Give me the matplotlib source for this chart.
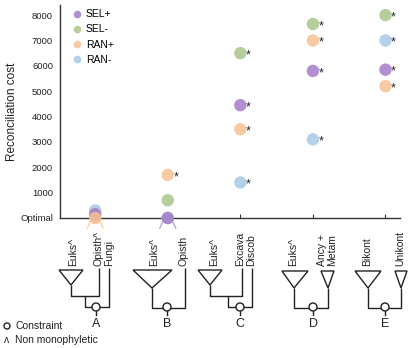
import matplotlib
matplotlib.use("Agg")
import matplotlib.pyplot as plt
from matplotlib.lines import Line2D
from matplotlib.patches import Circle, Polygon

plt.rcParams['font.family'] = ['Liberation Sans', 'DejaVu Sans']

# data
categories = ["A", "B", "C", "D", "E"]
series_names = ["SEL+", "SEL-", "RAN+", "RAN-"]
colors = ["#a47cc9", "#a9c68a", "#f6c193", "#a8c8e6"]
sel_plus = [150, 0, 4450, 5800, 5850]
sel_minus = [60, 700, 6500, 7650, 8000]
ran_plus = [0, 1700, 3500, 7000, 5200]
ran_minus = [300, 0, 1400, 3100, 7000]
# significance star shown next to the point?
star_sel_plus = [False, False, True, True, True]
star_sel_minus = [False, False, True, True, True]
star_ran_plus = [False, True, True, True, True]
star_ran_minus = [False, False, True, True, True]
ytick_vals = [0, 1000, 2000, 3000, 4000, 5000, 6000, 7000, 8000]
ytick_labels = ["Optimal", "1000", "2000", "3000", "4000", "5000", "6000", "7000", "8000"]

W, H = 415, 348
fig = plt.figure(figsize=(W / 100, H / 100), dpi=100)
ax = fig.add_axes([60 / W, 1 - 218 / H, 340 / W, 213 / H])

xpos = list(range(1, len(categories) + 1))
series = [(sel_plus, star_sel_plus), (sel_minus, star_sel_minus),
          (ran_plus, star_ran_plus), (ran_minus, star_ran_minus)]
# draw order so overlapping points look like the original
order = [3, 1, 0, 2]
for z, i in enumerate(order):
    vals, stars = series[i]
    ax.scatter(xpos, vals, s=80, color=colors[i], alpha=0.85, edgecolors='none',
               zorder=3 + z, clip_on=False)
    for x, v, st in zip(xpos, vals, stars):
        if st:
            ax.annotate("*", (x, v), xytext=(4, -1.5), textcoords='offset points',
                        fontsize=9, color='#222222', ha='left', va='center')

ax.set_xlim(0.515, 5.2)
ax.set_ylim(0, 8400)
ax.set_yticks(ytick_vals)
ax.set_yticklabels(ytick_labels, fontsize=6.8, color='#222222')
ax.set_xticks(xpos)
ax.set_xticklabels([])
ax.tick_params(axis='y', length=0, pad=5)
ax.tick_params(axis='x', direction='in', length=3, width=0.8, color='#333333')
for side in ['top', 'right']:
    ax.spines[side].set_visible(False)
for side in ['left', 'bottom']:
    ax.spines[side].set_color('#333333')
    ax.spines[side].set_linewidth(1.0)
ax.set_ylabel("Reconciliation cost", fontsize=8.5, color='#222222')
ax.yaxis.set_label_coords(-0.124, 0.5)

handles = [Line2D([], [], marker='o', linestyle='none', markersize=5.5,
                  markerfacecolor=c, markeredgecolor='none', alpha=0.85) for c in colors]
ax.legend(handles, series_names, loc='upper left', bbox_to_anchor=(64 / W, 1 - 4 / H),
          bbox_transform=fig.transFigure, frameon=False, fontsize=7.5,
          handletextpad=0.1, labelspacing=0.5, borderpad=0, handlelength=1.5)

# small caret marks under the overlapping points at A and B
for x, col in [(1, colors[2]), (2, colors[0])]:
    for d in (-1, 1):
        ax.plot([x + d * 0.06, x + d * 0.11], [-100, -400], color=col, lw=1.0,
                alpha=0.7, clip_on=False, zorder=2)

# overlay in pixel coordinates for the tree sketches
ov = fig.add_axes([0, 0, 1, 1])
ov.set_xlim(0, W)
ov.set_ylim(H, 0)
ov.axis('off')
ov.patch.set_visible(False)

lc = '#222222'
lw = 1.0


def line(xs, ys):
    ov.plot(xs, ys, color=lc, lw=lw, solid_capstyle='butt')


def tri(left, right, apex_x, top, apex_y):
    ov.add_patch(Polygon([[left, top], [right, top], [apex_x, apex_y]], closed=True,
                         fill=False, edgecolor=lc, lw=lw))


def label(x, txt):
    ov.text(x, 266, txt, rotation=90, ha='center', va='bottom', fontsize=7.5, color='#222222',
            linespacing=1.0)


def node(cx, letter):
    ov.plot([cx, cx], [311, 315], color=lc, lw=lw)
    ov.add_patch(Circle((cx, 307), 4, facecolor='white', edgecolor=lc, lw=lw, zorder=5))
    ov.text(cx, 324, letter, ha='center', va='center', fontsize=9, color='#222222')


cxs = [96, 167, 240, 313, 385]

# A
c = cxs[0]
tri(c - 37, c - 13, c - 25, 270, 285)
line([c - 25, c - 25, c + 3, c + 3], [285, 296, 296, 268])
line([c - 11, c - 11, c + 13, c + 13], [296, 307, 307, 268])
label(c - 23, "Euks^")
label(c + 2, "Opisth^")
label(c + 13, "Fungi")
node(c, "A")

# B
c = cxs[1]
tri(c - 34, c + 5, c - 15, 270, 288)
line([c - 15, c - 15, c + 18, c + 18], [288, 308, 308, 268])
label(c - 13, "Euks^")
label(c + 16, "Opisth")
node(c, "B")

# C
c = cxs[2]
tri(c - 42, c - 18, c - 30, 270, 285)
line([c - 30, c - 30, c + 2, c + 2], [285, 296, 296, 268])
line([c - 12, c - 12, c + 12, c + 12], [296, 307, 307, 268])
label(c - 26, "Euks^")
label(c, "Excava")
label(c + 11, "Discob")
node(c, "C")

# D
c = cxs[3]
tri(c - 31, c - 5, c - 19, 271, 288)
tri(c + 8, c + 21, c + 15, 271, 288)
line([c - 19, c - 19, c + 15, c + 15], [288, 308, 308, 288])
label(c - 20, "Euks^")
label(c + 14, "Ancy +\nMetam")
node(c, "D")

# E
c = cxs[4]
tri(c - 30, c - 4, c - 17, 271, 288)
tri(c + 10, c + 22, c + 16, 271, 288)
line([c - 17, c - 17, c + 16, c + 16], [288, 308, 308, 288])
label(c - 18, "Bikont")
label(c + 15, "Unikont")
node(c, "E")

# key for the tree symbols
ov.add_patch(Circle((7, 326), 3, facecolor='white', edgecolor=lc, lw=lw))
ov.text(15, 326, "Constraint", ha='left', va='center', fontsize=7.5, color='#222222')
ov.text(7, 340, "\u028c", ha='center', va='center', fontsize=7.5, color='#222222')
ov.text(15, 340, "Non monophyletic", ha='left', va='center', fontsize=7.5, color='#222222')

fig.savefig("out.png", dpi=100)
